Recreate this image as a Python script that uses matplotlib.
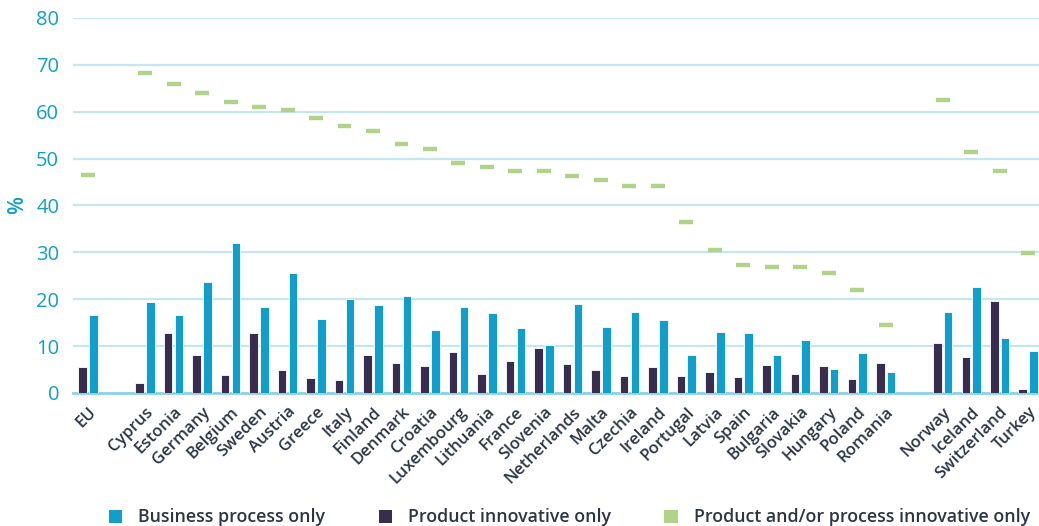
import matplotlib
matplotlib.use("Agg")
import matplotlib.pyplot as plt
from matplotlib.patches import Patch
import numpy as np

plt.rcParams['font.family'] = ['Open Sans', 'DejaVu Sans']

categories = ["EU", "", "Cyprus", "Estonia", "Germany", "Belgium", "Sweden", "Austria",
              "Greece", "Italy", "Finland", "Denmark", "Croatia", "Luxembourg",
              "Lithuania", "France", "Slovenia", "Netherlands", "Malta", "Czechia",
              "Ireland", "Portugal", "Latvia", "Spain", "Bulgaria", "Slovakia",
              "Hungary", "Poland", "Romania", "", "Norway", "Iceland", "Switzerland",
              "Turkey"]

business_process = [16.6, None, 19.5, 16.6, 23.6, 32.0, 18.3, 25.7, 15.8, 20.1, 18.8,
                    20.7, 13.4, 18.3, 17.1, 13.8, 10.2, 18.9, 14.1, 17.3, 15.6, 8.0,
                    13.0, 12.8, 8.2, 11.3, 5.2, 8.5, 4.5, None, 17.3, 22.6, 11.8, 9.0]

product_only = [5.5, None, 2.2, 12.7, 8.2, 3.9, 12.7, 4.9, 3.1, 2.7, 8.2,
                6.5, 5.7, 8.7, 4.0, 6.8, 9.7, 6.2, 5.0, 3.7, 5.5, 3.7,
                4.5, 3.4, 6.0, 4.0, 5.7, 3.0, 6.5, None, 10.7, 7.7, 19.6, 0.9]

product_process = [46.6, None, 68.2, 66.0, 63.9, 62.0, 61.1, 60.3, 58.6, 56.9, 55.8,
                   53.2, 52.0, 49.0, 48.3, 47.3, 47.3, 46.2, 45.4, 44.1, 44.1, 36.4,
                   30.4, 27.4, 26.8, 26.8, 25.5, 21.9, 14.4, None, 62.6, 51.5, 47.3, 29.8]

series_labels = ["Business process only", "Product innovative only",
                 "Product and/or process innovative only"]
yticks = [0, 10, 20, 30, 40, 50, 60, 70, 80]

BLUE = "#109fca"
DARK = "#382c4f"
GREEN = "#b0d38a"
GRID = "#c4e6f1"
TEXT = "#2b3545"

fig = plt.figure(figsize=(10.39, 5.26), dpi=100)
ax = fig.add_axes([0.0703, 0.2529, 0.9297, 0.7129])

x = np.arange(len(categories))
idx = [i for i, v in enumerate(business_process) if v is not None]
bp = np.array([business_process[i] for i in idx])
po = np.array([product_only[i] for i in idx])
pp = np.array([product_process[i] for i in idx])
xi = x[idx]

w = 0.3
ax.bar(xi - 0.19, po, width=w, color=DARK, edgecolor="white", linewidth=0.6, zorder=3)
ax.bar(xi + 0.19, bp, width=w, color=BLUE, edgecolor="white", linewidth=0.6, zorder=3)
ax.errorbar(xi, pp, xerr=0.245, fmt='none', ecolor=GREEN, elinewidth=3.2, capsize=0, zorder=4)

ax.set_ylim(0, 80)
ax.set_xlim(-0.53, 33.38)
ax.set_yticks(yticks)
ax.yaxis.grid(True, color=GRID, linewidth=1.6, zorder=0)
ax.set_axisbelow(True)
for s in ["top", "right", "left"]:
    ax.spines[s].set_visible(False)
ax.spines["bottom"].set_color("#8fd0e4")
ax.spines["bottom"].set_linewidth(2)
ax.tick_params(axis="y", length=0, labelsize=14.5, labelcolor=BLUE, pad=10)
ax.tick_params(axis="x", length=0, labelsize=12, labelcolor=TEXT, pad=8)
ax.set_xticks(x)
ax.set_xticklabels(categories, rotation=45, ha="right", rotation_mode="anchor")
for lbl in ax.get_xticklabels():
    lbl.set_fontweight("semibold")
ax.set_ylabel("%", color=BLUE, fontsize=15, labelpad=6, fontweight="semibold")

handles = [Patch(facecolor=BLUE), Patch(facecolor=DARK), Patch(facecolor=GREEN)]
leg = fig.legend(handles, series_labels, loc="lower center", ncol=3, frameon=False,
                 bbox_to_anchor=(0.548, -0.031), handlelength=0.75,
                 handleheight=0.75, columnspacing=3.0, handletextpad=0.9,
                 prop={"weight": "semibold", "size": 12.8})
for t in leg.get_texts():
    t.set_color(TEXT)

fig.savefig("out.png", dpi=100)
